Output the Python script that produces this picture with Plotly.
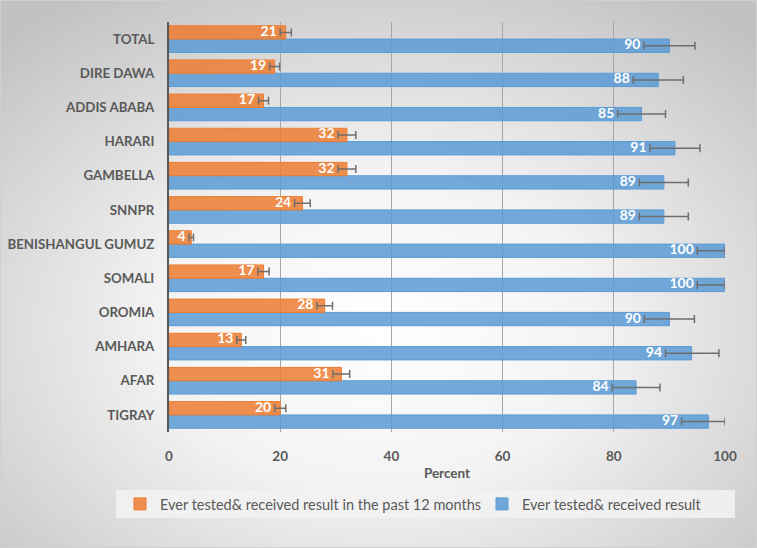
import base64
import plotly.graph_objects as go

categories = ["TIGRAY", "AFAR", "AMHARA", "OROMIA", "SOMALI", "BENISHANGUL GUMUZ",
              "SNNPR", "GAMBELLA", "HARARI", "ADDIS ABABA", "DIRE DAWA", "TOTAL"]
recent = [20, 31, 13, 28, 17, 4, 24, 32, 32, 17, 19, 21]
recent_err = [1.0, 1.5, 0.8, 1.4, 1.0, 0.4, 1.4, 1.6, 1.6, 0.9, 0.9, 1.0]
ever = [97, 84, 94, 90, 100, 100, 89, 89, 91, 85, 88, 90]
ever_err_plus = [3.0, 4.3, 4.9, 4.5, 0.0, 0.0, 4.4, 4.4, 4.5, 4.3, 4.5, 4.6]
ever_err_minus = [4.8, 4.3, 4.7, 4.5, 5.0, 5.0, 4.4, 4.4, 4.5, 4.3, 4.5, 4.6]
x_ticks = [0, 20, 40, 60, 80, 100]

name_recent = "Ever tested& received result in the past 12 months"
name_ever = "Ever tested& received result"

W, H = 757, 548
L, R, T, B = 169, 32, 22, 116
pw, ph = W - L - R, H - T - B

def px_x(p):
    return (p - L) / pw

def px_y(p):
    return (H - B - p) / ph

svg = f'''<svg xmlns="http://www.w3.org/2000/svg" width="{W}" height="{H}" viewBox="0 0 {W} {H}" preserveAspectRatio="none">
<defs><radialGradient id="g" cx="50%" cy="60%" r="72%">
<stop offset="0" stop-color="#ffffff"/><stop offset="0.4" stop-color="#f3f3f3"/><stop offset="1" stop-color="#c2c2c2"/></radialGradient></defs>
<rect x="0" y="0" width="{W}" height="{H}" fill="url(#g)"/></svg>'''
bg_uri = "data:image/svg+xml;base64," + base64.b64encode(svg.encode()).decode()

orange, orange_line = "rgba(237,125,49,0.85)", "#ed7d31"
blue, blue_line = "rgba(91,155,213,0.85)", "#5b9bd5"
err_color = "#6e6e6e"
label_font = dict(family="Lato", size=14, color="white", weight="bold")
NB = "\u00a0"

fig = go.Figure()
fig.add_trace(go.Bar(
    y=categories, x=ever, orientation="h", name=name_ever, offsetgroup="b",
    marker=dict(color=blue, line=dict(color=blue_line, width=1)),
    error_x=dict(type="data", symmetric=False, array=ever_err_plus, arrayminus=ever_err_minus,
                 color=err_color, thickness=1.5, width=4),
    legend="legend2",
))
fig.add_trace(go.Bar(
    y=categories, x=recent, orientation="h", name=name_recent, offsetgroup="a",
    marker=dict(color=orange, line=dict(color=orange_line, width=1)),
    error_x=dict(type="data", array=recent_err, color=err_color, thickness=1.5, width=4),
    legend="legend",
))
fig.add_trace(go.Scatter(
    y=categories, x=[v - e for v, e in zip(ever, ever_err_minus)], orientation="h",
    offsetgroup="b", mode="text", text=[f"{v}{NB}" for v in ever], textposition="middle left",
    textfont=label_font, showlegend=False, hoverinfo="skip", cliponaxis=False,
))
fig.add_trace(go.Scatter(
    y=categories, x=[v - e for v, e in zip(recent, recent_err)], orientation="h",
    offsetgroup="a", mode="text", text=[f"{v}{NB}" for v in recent], textposition="middle left",
    textfont=label_font, showlegend=False, hoverinfo="skip", cliponaxis=False,
))

legend_common = dict(orientation="h", yanchor="middle", xanchor="left", bgcolor="rgba(0,0,0,0)",
                     font=dict(size=14.5, color="#595959"), itemwidth=30)

fig.update_layout(
    width=W, height=H,
    margin=dict(l=L, r=R, t=T, b=B, pad=0, autoexpand=False),
    barmode="group", bargap=0.22, bargroupgap=0,
    scattermode="group", scattergap=0.22,
    paper_bgcolor="white", plot_bgcolor="rgba(0,0,0,0)",
    font=dict(family="Lato", color="#595959"),
    showlegend=True,
    legend=dict(x=px_x(120), y=px_y(504), **legend_common),
    legend2=dict(x=px_x(482), y=px_y(504), **legend_common),
    xaxis=dict(range=[0, 100], tickvals=x_ticks, showgrid=True, gridcolor="#a6a6a6", gridwidth=1,
               zeroline=False, showline=False, ticks="", ticklabelstandoff=14, automargin=False,
               tickfont=dict(size=13.5, color="#595959", weight="bold"),
               title=dict(text="Percent", font=dict(size=13.5, color="#595959", weight="bold"), standoff=6)),
    yaxis=dict(showgrid=False, zeroline=False, showline=True, linecolor="#595959", linewidth=2,
               ticks="", ticklabelstandoff=10, automargin=False,
               tickfont=dict(size=13.3, color="#595959", weight="bold")),
    images=[dict(source=bg_uri, xref="paper", yref="paper", x=px_x(0), y=px_y(0),
                 sizex=W / pw, sizey=H / ph, sizing="stretch", layer="below",
                 xanchor="left", yanchor="top")],
    shapes=[
        dict(type="rect", xref="paper", yref="paper", x0=px_x(116), x1=px_x(735),
             y0=px_y(518), y1=px_y(490), fillcolor="rgba(242,242,242,0.9)", line=dict(width=0),
             layer="below"),
        dict(type="rect", xref="paper", yref="paper", x0=px_x(0.5), x1=px_x(W - 0.5),
             y0=px_y(H - 0.5), y1=px_y(0.5), line=dict(color="#d0d0d0", width=1),
             fillcolor="rgba(0,0,0,0)", layer="above"),
    ],
)

fig.write_html("out.html", config={"displayModeBar": False},
               post_script="document.body.style.margin='0';")
